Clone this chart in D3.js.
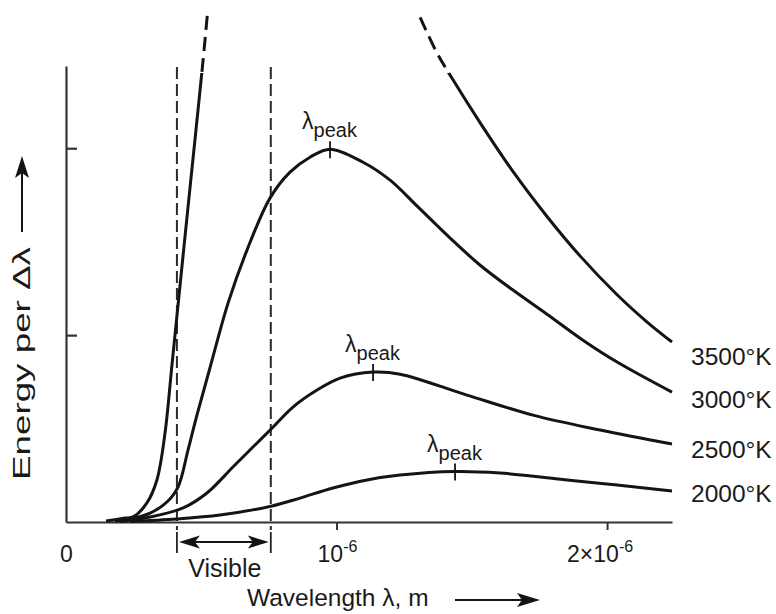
<!DOCTYPE html>
<html>
<head>
<meta charset="utf-8">
<script src="https://cdn.jsdelivr.net/npm/d3@7"></script>
<style>
  body { margin: 0; background: #fff; }
  svg { display: block; font-family: "Liberation Sans", Arial, sans-serif; }
</style>
</head>
<body>
<div id="chart"></div>
<script>
// wavelength in units of 10^-6 m, energy in relative units
const lambda3500L = [0.148, 0.218, 0.248, 0.299, 0.336, 0.366, 0.392, 0.425, 0.462, 0.503, 0.523];
const energy3500L = [0.005, 0.021, 0.027, 0.102, 0.225, 0.476, 0.845, 1.316, 1.840, 2.417, 2.722];
const lambda3500R = [1.309, 1.368, 1.427, 1.531, 1.652, 1.778, 1.900, 2.037, 2.148, 2.240];
const energy3500R = [2.700, 2.519, 2.374, 2.136, 1.876, 1.635, 1.424, 1.216, 1.070, 0.963];
const lambda3000 = [0.181, 0.248, 0.311, 0.373, 0.414, 0.451, 0.484, 0.532, 0.599, 0.669, 0.754, 0.828, 0.902, 0.976, 1.098, 1.198, 1.298, 1.420, 1.531, 1.652, 1.778, 1.911, 2.037, 2.240];
const energy3000 = [0.005, 0.021, 0.048, 0.107, 0.187, 0.385, 0.572, 0.824, 1.171, 1.455, 1.733, 1.872, 1.952, 1.995, 1.925, 1.829, 1.690, 1.519, 1.374, 1.241, 1.112, 0.973, 0.856, 0.695];
const lambda2500 = [0.200, 0.311, 0.433, 0.521, 0.617, 0.691, 0.762, 0.839, 0.928, 1.013, 1.135, 1.235, 1.482, 1.726, 1.974, 2.240];
const energy2500 = [0.003, 0.027, 0.075, 0.155, 0.294, 0.401, 0.503, 0.615, 0.706, 0.770, 0.802, 0.791, 0.679, 0.572, 0.492, 0.417];
const lambda2000 = [0.237, 0.410, 0.569, 0.762, 0.865, 0.987, 1.113, 1.235, 1.438, 1.604, 1.852, 2.037, 2.240];
const energy2000 = [0.003, 0.016, 0.037, 0.086, 0.128, 0.182, 0.225, 0.251, 0.270, 0.262, 0.225, 0.198, 0.166];

const tempLabels = ["3500°K", "3000°K", "2500°K", "2000°K"];
const peakLambda = [0.976, 1.135, 1.438];
const peakEnergy = [1.995, 0.802, 0.270];
const visibleRange = [0.41, 0.757];
const xTickValues = [0, 1, 2];
const xTickMain = ["0", "10", "2×10"];
const xTickSup = ["", "-6", "-6"];
const yTickValues = [1, 2];

const svgWidth = 776, svgHeight = 614;
const svg = d3.select("#chart").append("svg")
    .attr("width", svgWidth).attr("height", svgHeight);

const x = d3.scaleLinear().domain([0, 2.24]).range([66, 672]);
const y = d3.scaleLinear().domain([0, 2.44]).range([522, 66]);
const ink = "#141414";
const textInk = "#1a1a1a";

// clip regions: solid inside the frame, dashed above it
const defs = svg.append("defs");
defs.append("clipPath").attr("id", "solid").append("rect")
    .attr("x", 0).attr("y", 73).attr("width", svgWidth).attr("height", svgHeight);
defs.append("clipPath").attr("id", "above").append("rect")
    .attr("x", 0).attr("y", 0).attr("width", svgWidth).attr("height", 73);

// axes
svg.append("g").attr("transform", `translate(0,${y(0)})`)
    .call(d3.axisBottom(x).tickValues([1, 2]).tickSize(8).tickSizeOuter(0).tickFormat(""))
    .call(g => g.selectAll("path, line").attr("stroke", "#333").attr("stroke-width", 2));
svg.append("g").attr("transform", `translate(${x(0)},0)`)
    .call(d3.axisRight(y).tickValues(yTickValues).tickSize(11).tickSizeOuter(0).tickFormat(""))
    .call(g => g.selectAll("path, line").attr("stroke", "#333").attr("stroke-width", 2.2));

// visible band
visibleRange.forEach(v => {
    svg.append("line")
        .attr("x1", x(v)).attr("x2", x(v)).attr("y1", 67).attr("y2", 530)
        .attr("stroke", "#2a2a2a").attr("stroke-width", 2).attr("stroke-dasharray", "12,5");
    svg.append("line")
        .attr("x1", x(v)).attr("x2", x(v)).attr("y1", 532).attr("y2", 553)
        .attr("stroke", "#222").attr("stroke-width", 1.8);
});
const vy = 542, v0 = x(visibleRange[0]) + 2, v1 = x(visibleRange[1]) - 2;
svg.append("line").attr("x1", v0 + 14).attr("x2", v1 - 14).attr("y1", vy).attr("y2", vy)
    .attr("stroke", ink).attr("stroke-width", 1.8);
svg.append("path").attr("d", `M${v0},${vy}L${v0 + 21},${vy - 6.5}L${v0 + 16},${vy}L${v0 + 21},${vy + 6.5}Z`).attr("fill", ink);
svg.append("path").attr("d", `M${v1},${vy}L${v1 - 21},${vy - 6.5}L${v1 - 16},${vy}L${v1 - 21},${vy + 6.5}Z`).attr("fill", ink);
svg.append("text").attr("x", (v0 + v1) / 2 + 1).attr("y", 577).attr("text-anchor", "middle")
    .attr("font-size", 25).attr("fill", textInk).text("Visible");

// curves
const line = d3.line().x(d => x(d[0])).y(d => y(d[1])).curve(d3.curveCatmullRom.alpha(0.5));
const series = [
    [lambda3500L, energy3500L], [lambda3500R, energy3500R],
    [lambda3000, energy3000], [lambda2500, energy2500], [lambda2000, energy2000]
];
series.forEach(s => {
    const pts = s[0].map((l, i) => [l, s[1][i]]);
    svg.append("path").datum(pts).attr("d", line).attr("clip-path", "url(#solid)")
        .attr("fill", "none").attr("stroke", ink).attr("stroke-width", 3);
    svg.append("path").datum(pts).attr("d", line).attr("clip-path", "url(#above)")
        .attr("fill", "none").attr("stroke", ink).attr("stroke-width", 3).attr("stroke-dasharray", "14,7");
});

// peak markers and labels
peakLambda.forEach((p, i) => {
    const px = x(p), py = y(peakEnergy[i]);
    svg.append("line").attr("x1", px).attr("x2", px).attr("y1", py - 8).attr("y2", py + 9)
        .attr("stroke", ink).attr("stroke-width", 1.8);
    const t = svg.append("text").attr("x", px - 28).attr("y", py - 20).attr("fill", textInk);
    t.append("tspan").attr("font-size", 23).text("λ");
    t.append("tspan").attr("font-size", 20).attr("dy", 8).text("peak");
});

// temperature labels at the curve ends
const ends = [energy3500R, energy3000, energy2500, energy2000].map(e => e[e.length - 1]);
const labelShift = [15, 8, 6, 3];
tempLabels.forEach((t, i) => {
    svg.append("text").attr("x", 691).attr("y", y(ends[i]) + labelShift[i] + 8)
        .attr("font-size", 24.5).attr("fill", textInk).text(t);
});

// x tick labels
const xStart = [-6, -19, -40];
xTickValues.forEach((v, i) => {
    const t = svg.append("text").attr("x", x(v) + xStart[i]).attr("y", 562)
        .attr("font-size", 23).attr("fill", textInk);
    t.append("tspan").text(xTickMain[i]);
    if (xTickSup[i]) t.append("tspan").attr("font-size", 16).attr("dy", -10).text(xTickSup[i]);
});

// axis titles
svg.append("text").attr("x", 247).attr("y", 606).attr("font-size", 24.5).attr("fill", textInk)
    .text("Wavelength λ, m");
svg.append("line").attr("x1", 455).attr("x2", 525).attr("y1", 600).attr("y2", 600)
    .attr("stroke", ink).attr("stroke-width", 2);
svg.append("path").attr("d", "M540,600L517,593L522,600L517,607Z").attr("fill", ink);

svg.append("text").attr("transform", "translate(30,480) rotate(-90)")
    .attr("font-size", 24).attr("fill", textInk)
    .attr("textLength", 233).attr("lengthAdjust", "spacingAndGlyphs")
    .text("Energy per Δλ");
svg.append("line").attr("x1", 22).attr("x2", 22).attr("y1", 232).attr("y2", 172)
    .attr("stroke", ink).attr("stroke-width", 2);
svg.append("path").attr("d", "M22,156L15,178L22,173L29,178Z").attr("fill", ink);
</script>
</body>
</html>
